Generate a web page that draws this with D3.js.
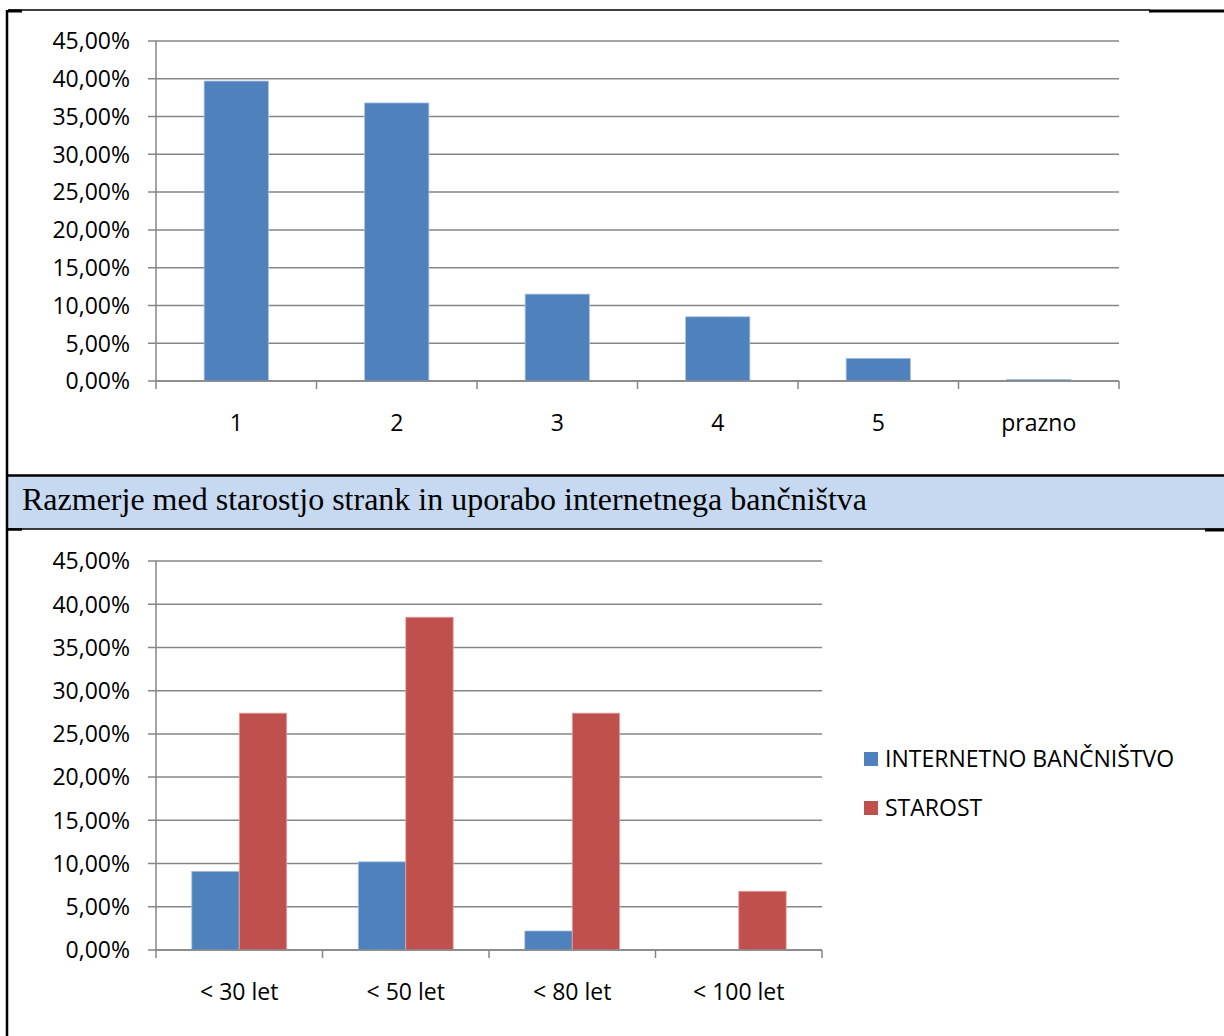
<!DOCTYPE html>
<html>
<head>
<meta charset="utf-8">
<script src="https://cdn.jsdelivr.net/npm/d3@7"></script>
<style>
  html, body { margin: 0; padding: 0; background: #ffffff; }
  svg { display: block; }
</style>
</head>
<body>
<svg id="page" width="1224" height="1036"></svg>
<script>
// Ocene (1–5 in prazno) – delež odgovorov
const ratingCategories = ["1", "2", "3", "4", "5", "prazno"];
const ratingShares = [39.7, 36.8, 11.5, 8.5, 3.0, 0.2];

// Starostne skupine in uporaba internetnega bančništva
const ageGroups = ["< 30 let", "< 50 let", "< 80 let", "< 100 let"];
const seriesNames = ["INTERNETNO BANČNIŠTVO", "STAROST"];
const internetBankingShares = [9.1, 10.2, 2.2, 0];
const ageShares = [27.4, 38.5, 27.4, 6.8];

const yTickValues = [0, 5, 10, 15, 20, 25, 30, 35, 40, 45];
const sectionTitle = "Razmerje med starostjo strank in uporabo internetnega bančništva";

const COLORS = { blue: "#4f81bd", red: "#c0504d", grid: "#868686", band: "#c6d9f1" };
const LABEL_FONT = "'Open Sans', 'Liberation Sans', sans-serif";
const LABEL_SIZE = 23;
const fmtPct = v => d3.format(".2f")(v).replace(".", ",") + "%";

const svg = d3.select("#page");

// ---- table frame and section heading ----
const frame = svg.append("g");
frame.append("rect").attr("x", 8).attr("y", 475).attr("width", 1216).attr("height", 54)
  .attr("fill", COLORS.band);
const lines = [
  [8, 10, 1150, 10, 1.5], [1149, 11, 1224, 11, 3], [8, 11, 22, 11, 3],
  [7, 10, 7, 1036, 2.5],
  [8, 475.5, 1224, 475.5, 2.5],
  [8, 529, 1224, 529, 1.5], [8, 529.5, 22, 529.5, 2.5], [1205, 530, 1224, 530, 3]
];
frame.selectAll("line").data(lines).join("line")
  .attr("x1", d => d[0]).attr("y1", d => d[1]).attr("x2", d => d[2]).attr("y2", d => d[3])
  .attr("stroke", "#000").attr("stroke-width", d => d[4]);
frame.append("text").attr("x", 22).attr("y", 510)
  .attr("font-family", "'Liberation Serif', 'Times New Roman', serif")
  .attr("font-size", 32).attr("fill", "#000")
  .text(sectionTitle);

// ---- shared helpers ----
function drawValueAxis(g, y, x0, x1) {
  g.selectAll("line.grid").data(yTickValues).join("line").attr("class", "grid")
    .attr("x1", x0 - 8).attr("x2", x1)
    .attr("y1", d => y(d)).attr("y2", d => y(d))
    .attr("stroke", COLORS.grid).attr("stroke-width", 1.5);
  g.append("line").attr("x1", x0).attr("x2", x0)
    .attr("y1", y(45)).attr("y2", y(0))
    .attr("stroke", COLORS.grid).attr("stroke-width", 1.5);
  g.selectAll("text.ylab").data(yTickValues).join("text").attr("class", "ylab")
    .attr("x", x0 - 26).attr("y", d => y(d)).attr("dy", "0.36em")
    .attr("text-anchor", "end").attr("font-family", LABEL_FONT)
    .attr("font-size", LABEL_SIZE).attr("fill", "#000")
    .text(fmtPct);
}
function drawCategoryTicks(g, x, yBase, count) {
  const bounds = d3.range(count + 1).map(i => x.range()[0] + i * x.step());
  g.selectAll("line.xtick").data(bounds).join("line").attr("class", "xtick")
    .attr("x1", d => d).attr("x2", d => d)
    .attr("y1", yBase).attr("y2", yBase + 8)
    .attr("stroke", COLORS.grid).attr("stroke-width", 1.5);
}

// ---- chart 1: ocene ----
{
  const g = svg.append("g");
  const x = d3.scaleBand().domain(ratingCategories).range([156, 1119])
    .paddingInner(0.6).paddingOuter(0.3);
  const y = d3.scaleLinear().domain([0, 45]).range([381, 41]);
  drawValueAxis(g, y, 156, 1119);
  g.selectAll("rect.bar").data(ratingCategories).join("rect").attr("class", "bar")
    .attr("x", d => x(d)).attr("width", x.bandwidth())
    .attr("y", (d, i) => y(ratingShares[i]))
    .attr("height", (d, i) => y(0) - y(ratingShares[i]))
    .attr("fill", COLORS.blue).attr("stroke", "#a7bfdf").attr("stroke-width", 0.8);
  g.append("line").attr("x1", 156).attr("x2", 1119).attr("y1", y(0)).attr("y2", y(0))
    .attr("stroke", COLORS.grid).attr("stroke-width", 1.5);
  drawCategoryTicks(g, x, y(0), ratingCategories.length);
  g.selectAll("text.xlab").data(ratingCategories).join("text").attr("class", "xlab")
    .attr("x", d => x(d) + x.bandwidth() / 2).attr("y", 423).attr("dy", "0.36em")
    .attr("text-anchor", "middle").attr("font-family", LABEL_FONT)
    .attr("font-size", LABEL_SIZE).attr("fill", "#000")
    .text(d => d);
}

// ---- chart 2: starost in internetno bančništvo ----
{
  const g = svg.append("g");
  const x = d3.scaleBand().domain(ageGroups).range([156, 822])
    .paddingInner(0.43).paddingOuter(0.215);
  const xs = d3.scaleBand().domain(seriesNames).range([0, x.bandwidth()]);
  const y = d3.scaleLinear().domain([0, 45]).range([950, 561]);
  drawValueAxis(g, y, 156, 822);
  const series = [
    { name: seriesNames[0], values: internetBankingShares, color: COLORS.blue, edge: "#a7bfdf" },
    { name: seriesNames[1], values: ageShares, color: COLORS.red, edge: "#e0a8a6" }
  ];
  series.forEach(s => {
    g.selectAll(null).data(ageGroups).join("rect")
      .attr("x", d => x(d) + xs(s.name)).attr("width", xs.bandwidth())
      .attr("y", (d, i) => y(s.values[i]))
      .attr("height", (d, i) => y(0) - y(s.values[i]))
      .attr("fill", s.color)
      .attr("stroke", (d, i) => s.values[i] > 0 ? s.edge : "none").attr("stroke-width", 0.8);
  });
  g.append("line").attr("x1", 156).attr("x2", 822).attr("y1", y(0)).attr("y2", y(0))
    .attr("stroke", COLORS.grid).attr("stroke-width", 1.5);
  drawCategoryTicks(g, x, y(0), ageGroups.length);
  g.selectAll("text.xlab").data(ageGroups).join("text").attr("class", "xlab")
    .attr("x", d => x(d) + x.bandwidth() / 2).attr("y", 992).attr("dy", "0.36em")
    .attr("text-anchor", "middle").attr("font-family", LABEL_FONT)
    .attr("font-size", LABEL_SIZE).attr("fill", "#000")
    .text(d => d);

  // legenda
  const legend = g.selectAll("g.legend").data(series).join("g").attr("class", "legend")
    .attr("transform", (d, i) => `translate(864, ${759 + i * 49})`);
  legend.append("rect").attr("x", 0).attr("y", -7).attr("width", 14).attr("height", 14)
    .attr("fill", d => d.color);
  legend.append("text").attr("x", 21).attr("y", 0).attr("dy", "0.36em")
    .attr("font-family", LABEL_FONT).attr("font-size", LABEL_SIZE).attr("fill", "#000")
    .text(d => d.name);
}
</script>
</body>
</html>
